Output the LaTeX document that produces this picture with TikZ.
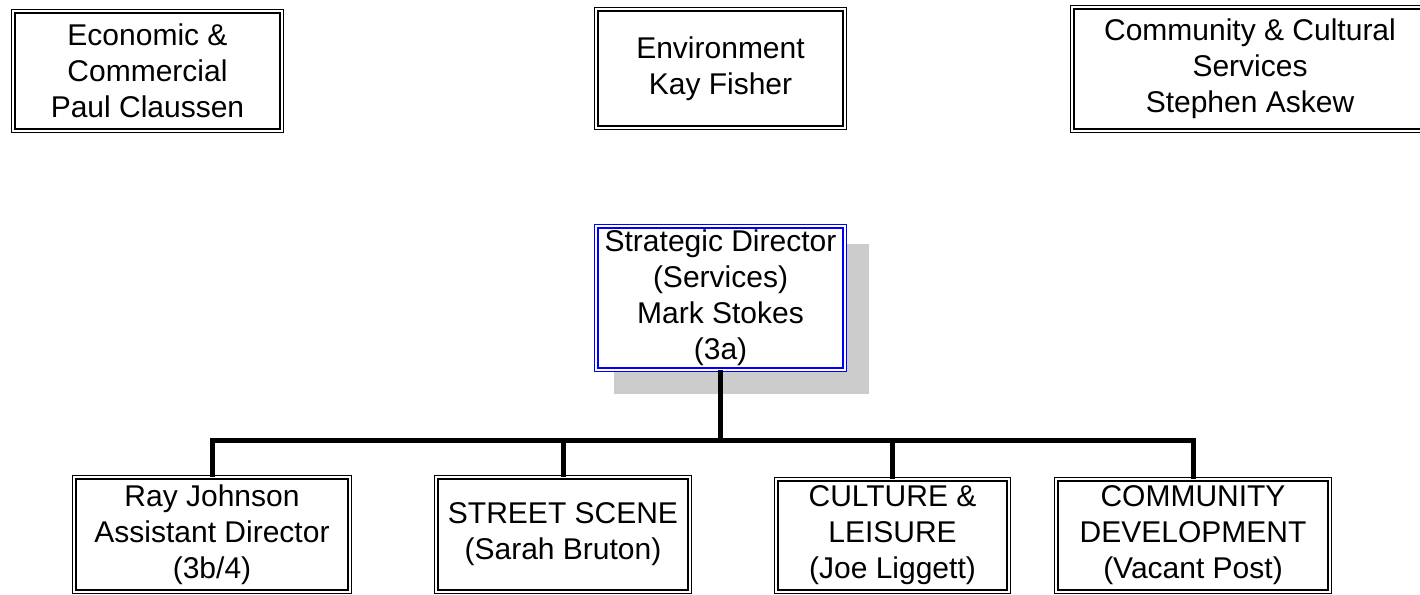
\documentclass[tikz,border=0pt]{standalone}
\usepackage{fontspec}
\setmainfont{Liberation Sans}
\usetikzlibrary{backgrounds,calc}
\definecolor{shadowgray}{RGB}{204,204,204}
\definecolor{boxblue}{RGB}{0,0,255}
\tikzset{
  unit/.style={draw=black, double=white, line width=1.2pt, double distance=2.2pt,
    fill=white, inner sep=0pt, align=center,
    font=\fontsize{30}{36}\selectfont},
  topunit/.style={unit, draw=boxblue},
  trunk/.style={line width=5pt, black},
}
\begin{document}
\begin{tikzpicture}[x=1pt, y=-1pt]
\useasboundingbox (0,0) rectangle (1420,594);
% top row
\node[unit, minimum width=268.4pt, minimum height=119.4pt] (econ) at (147.5,71) {Economic \&\\Commercial\\Paul Claussen};
\node[unit, minimum width=248.4pt, minimum height=118.4pt] (env) at (720.5,68.5) {Environment\\Kay Fisher};
\node[unit, minimum width=355.4pt, minimum height=123.4pt] (ccs) at (1250,69) {Community \& Cultural\\Services\\Stephen Askew};
% director
\node[topunit, minimum width=248.4pt, minimum height=143.4pt] (sd) at (720.5,298) {Strategic Director\\(Services)\\Mark Stokes\\(3a)};
\begin{scope}[on background layer]
\fill[shadowgray] ([xshift=18.7pt, yshift=-18.7pt]sd.north west) rectangle ([xshift=23.3pt, yshift=-23.3pt]sd.south east);
\end{scope}
% bottom row
\node[unit, minimum width=275.4pt, minimum height=114.4pt] (ray) at (212,534.5) {Ray Johnson\\Assistant Director\\(3b/4)};
\node[unit, minimum width=253.4pt, minimum height=114.4pt] (street) at (563,534.5) {STREET SCENE\\(Sarah Bruton)};
\node[unit, minimum width=232.4pt, minimum height=112.4pt] (culture) at (892.5,535.5) {CULTURE \&\\LEISURE\\(Joe Liggett)};
\node[unit, minimum width=273.4pt, minimum height=112.4pt] (commdev) at (1193,535.5) {COMMUNITY\\DEVELOPMENT\\(Vacant Post)};
% connectors
\coordinate (bus) at (720.5,440);
\draw[trunk] (sd.south) -- (sd.south |- bus) -| (ray.north);
\draw[trunk] (sd.south |- bus) -| (commdev.north);
\draw[trunk] (street.north |- bus) -- (street.north);
\draw[trunk] (culture.north |- bus) -- (culture.north);
\end{tikzpicture}
\end{document}
